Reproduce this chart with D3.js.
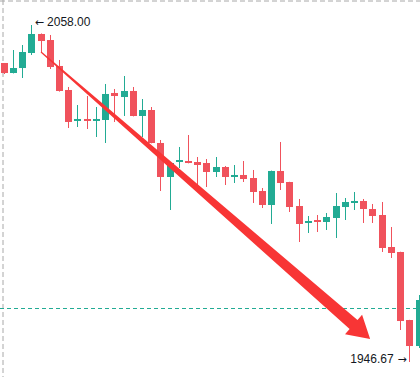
<!DOCTYPE html>
<html>
<head>
<meta charset="utf-8">
<script src="https://cdn.jsdelivr.net/npm/d3@7"></script>
<style>
  html, body { margin: 0; padding: 0; background: #fff; }
  svg { display: block; }
</style>
</head>
<body>
<div class="chart"></div>
<script>
// ohlc, one entry per candle
const open_ = [2045.45, 2042.14, 2043.79, 2048.75, 2055.03, 2053.04, 2044.46, 2036.53, 2026.29, 2026.95,
  2026.29, 2026.62, 2035.54, 2034.21, 2036.20, 2027.94, 2029.92, 2019.02, 2007.79, 2012.74,
  2013.07, 2012.74, 2012.41, 2009.44, 2011.09, 2007.79, 2008.45, 2007.45, 2003.16, 1998.54,
  2009.77, 2006.13, 1998.20, 1992.59, 1993.58, 1992.92, 1994.24, 1997.87, 1999.20, 1999.86,
  1997.21, 1995.23, 1984.66, 1983.01, 1960.54, 1951.95]
const high = [2045.45, 2049.74, 2051.39, 2058.00, 2055.20, 2054.70, 2046.44, 2037.52, 2031.57, 2034.54,
  2030.91, 2038.51, 2036.86, 2041.15, 2037.52, 2033.55, 2030.91, 2020.01, 2012.50, 2017.70,
  2021.66, 2014.39, 2013.73, 2014.39, 2011.42, 2011.75, 2013.07, 2010.10, 2004.15, 2009.90,
  2019.35, 2006.20, 2000.52, 1994.90, 1995.23, 1995.89, 2002.50, 2000.85, 2002.83, 2000.52,
  1998.87, 1999.53, 1991.27, 1983.10, 1960.60, 1968.80]
const low = [2041.81, 2042.00, 2040.49, 2048.09, 2049.08, 2043.46, 2036.00, 2023.97, 2024.30, 2023.64,
  2021.00, 2019.02, 2025.96, 2027.94, 2027.80, 2021.00, 2018.90, 2003.16, 1996.88, 2010.76,
  2012.30, 2004.48, 2004.48, 2007.79, 2005.14, 2005.80, 2006.13, 1999.20, 1997.54, 1992.26,
  2003.49, 1996.22, 1986.31, 1989.29, 1989.62, 1990.28, 1987.63, 1993.58, 1996.88, 1992.59,
  1992.59, 1983.01, 1981.03, 1957.24, 1946.67, 1951.29]
const close_ = [2042.14, 2043.79, 2049.08, 2055.03, 2052.71, 2044.12, 2036.20, 2025.96, 2026.95, 2026.29,
  2026.95, 2035.21, 2034.54, 2036.20, 2027.94, 2029.92, 2019.02, 2007.79, 2012.41, 2013.40,
  2012.41, 2011.75, 2009.44, 2011.09, 2007.79, 2008.45, 2007.12, 2002.83, 1998.54, 2009.77,
  2005.80, 1997.87, 1992.26, 1993.25, 1992.92, 1994.57, 1998.20, 1999.53, 1999.86, 1997.21,
  1994.90, 1984.33, 1982.68, 1960.21, 1951.95, 1967.15]

const priceLine = 1964.5
const hiLabel = '2058.00'
const loLabel = '1946.67'
// drawn arrow, in [candle index, price]
const arrowFrom = [4.05, 2049.1]
const arrowTo = [39.75, 1954.3]

const width = 420
const height = 377
const up = '#22ab94'
const down = '#f0525c'
const font = 'Liberation Sans, Arial, sans-serif'

const candles = open_.map((o, i) => ({ i: i, o: o, h: high[i], l: low[i], c: close_[i] }))

const svg = d3.select('.chart').append('svg')
  .attr('width', width)
  .attr('height', height)

const x = d3.scaleBand()
  .domain(candles.map(d => d.i))
  .range([-2.1, 424.3])
  .padding(0.25)

const y = d3.scaleLinear()
  .domain([1946.67, 2058])
  .range([362, 25])

// centre of a candle slot, also works for fractional positions
const cx = v => x(0) + x.bandwidth() / 2 + v * x.step()

// dashed frame lines
svg.append('line')
  .attr('x1', 0).attr('x2', width)
  .attr('y1', 1).attr('y2', 1)
  .attr('stroke', '#a8a8a8')
  .attr('stroke-dasharray', '5,3')
svg.append('line')
  .attr('x1', 3).attr('x2', 3)
  .attr('y1', 0).attr('y2', height)
  .attr('stroke', '#a8a8a8')
  .attr('stroke-dasharray', '5,3')

svg.append('line')
  .attr('x1', 0).attr('x2', width)
  .attr('y1', Math.round(y(priceLine)) + 0.5).attr('y2', Math.round(y(priceLine)) + 0.5)
  .attr('stroke', up)
  .attr('stroke-dasharray', '4,3')

const g = svg.append('g')

g.selectAll('line.wick')
  .data(candles)
  .enter()
  .append('line')
  .attr('class', 'wick')
  .attr('x1', d => Math.round(cx(d.i)) + 0.5)
  .attr('x2', d => Math.round(cx(d.i)) + 0.5)
  .attr('y1', d => y(d.h))
  .attr('y2', d => y(d.l))
  .attr('stroke', d => d.c >= d.o ? up : down)
  .attr('stroke-width', 1)

g.selectAll('rect')
  .data(candles)
  .enter()
  .append('rect')
  .attr('x', d => Math.round(cx(d.i)) + 0.5 - 3.5)
  .attr('width', 7)
  .attr('y', d => y(Math.max(d.o, d.c)))
  .attr('height', d => Math.max(2, Math.abs(y(d.o) - y(d.c))))
  .attr('fill', d => d.c >= d.o ? up : down)

// red arrow: tapered shaft + head
const p0 = [cx(arrowFrom[0]), y(arrowFrom[1])]
const p1 = [cx(arrowTo[0]), y(arrowTo[1])]
const len = Math.hypot(p1[0] - p0[0], p1[1] - p0[1])
const ux = (p1[0] - p0[0]) / len, uy = (p1[1] - p0[1]) / len
const nx = -uy, ny = ux
const headLen = 22, headHalf = 13, w0 = 0.6, w1 = 6
const base = [p1[0] - ux * headLen, p1[1] - uy * headLen]
const pts = [
  [p0[0] + nx * w0, p0[1] + ny * w0],
  [base[0] + nx * w1, base[1] + ny * w1],
  [base[0] + nx * headHalf, base[1] + ny * headHalf],
  p1,
  [base[0] - nx * headHalf, base[1] - ny * headHalf],
  [base[0] - nx * w1, base[1] - ny * w1],
  [p0[0] - nx * w0, p0[1] - ny * w0]
]
svg.append('path')
  .attr('d', d3.line()(pts) + 'Z')
  .attr('fill', '#f83535')

// high / low labels
const hiIdx = d3.maxIndex(high)
const loIdx = d3.minIndex(low)
const hi = svg.append('text')
  .attr('x', cx(hiIdx) + 3.5)
  .attr('y', y(high[hiIdx]) - 2)
  .attr('dominant-baseline', 'middle')
  .attr('font-family', font)
  .attr('font-size', '12px')
  .attr('fill', '#131722')
hi.append('tspan').attr('font-family', 'DejaVu Sans').attr('font-size', '11px').text('←')
hi.append('tspan').attr('dx', 3).text(hiLabel)

const lo = svg.append('text')
  .attr('x', cx(loIdx) - 2.5)
  .attr('y', y(low[loIdx]) - 2)
  .attr('text-anchor', 'end')
  .attr('dominant-baseline', 'middle')
  .attr('font-family', font)
  .attr('font-size', '12px')
  .attr('fill', '#131722')
lo.append('tspan').text(loLabel)
lo.append('tspan').attr('dx', 4).attr('font-family', 'DejaVu Sans').attr('font-size', '11px').text('→')
</script>
</body>
</html>
